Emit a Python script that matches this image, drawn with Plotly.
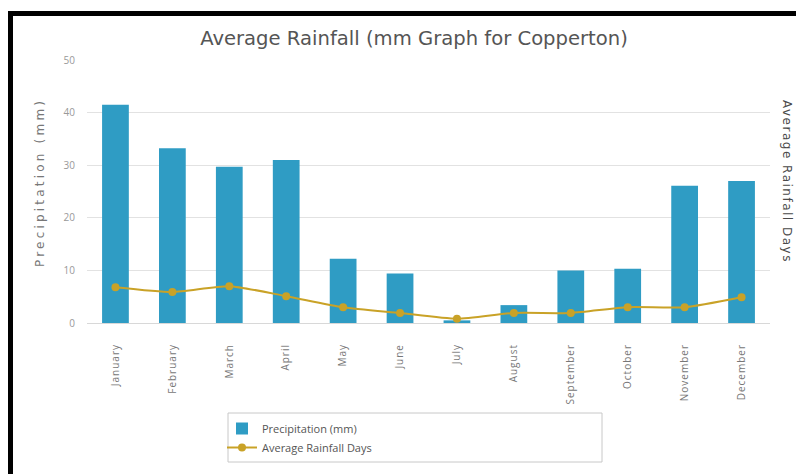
import plotly.graph_objects as go

months = ["January", "February", "March", "April", "May", "June", "July",
          "August", "September", "October", "November", "December"]
precip_mm = [41.5, 33.2, 29.7, 31.0, 12.2, 9.4, 0.5, 3.4, 10.0, 10.3, 26.1, 27.0]
rain_days = [6.8, 5.9, 7.0, 5.1, 3.0, 1.9, 0.8, 1.9, 1.9, 3.0, 3.0, 4.9]
y_ticks = [0, 10, 20, 30, 40, 50]

OFF = 8  # browser body margin
W, H = 804 - OFF, 474 - OFF
X0, X1, Y0, Y1 = 87, 770, 60, 323  # plot area in screen pixels
L, T = X0 - OFF, Y0 - OFF
pw, ph = X1 - X0, Y1 - Y0
R, B = W - L - pw, H - T - ph

def px(x):
    return (x - X0) / pw

def py(y):
    return (Y1 - y) / ph

def spaced(s, sp):
    return '<span style="letter-spacing:%spx">%s</span>' % (sp, s)

bar_color = "#2f9cc4"
line_color = "#c9a227"

fig = go.Figure()
fig.add_trace(go.Bar(
    x=months, y=precip_mm, name="Precipitation (mm)",
    marker=dict(color=bar_color, line=dict(width=0)),
))
fig.add_trace(go.Scatter(
    x=months, y=rain_days, name="Average Rainfall Days", mode="lines+markers",
    line=dict(color=line_color, width=2, shape="spline", smoothing=0.6),
    marker=dict(color=line_color, size=8),
))

fig.update_layout(
    template="none",
    width=W, height=H,
    margin=dict(l=L, r=R, t=T, b=B, pad=0),
    paper_bgcolor="white", plot_bgcolor="white",
    font=dict(family="Open Sans, DejaVu Sans, sans-serif", color="#666"),
    bargap=0.53,
    title=dict(text="Average Rainfall (mm Graph for Copperton)",
               x=(414 - OFF) / W, xanchor="center", y=1 - (38 - OFF) / H, yanchor="middle",
               font=dict(family="DejaVu Sans, sans-serif", size=19.6, color="#555")),
    xaxis=dict(tickangle=-90, tickfont=dict(size=10, color="#777"),
               tickvals=months, ticktext=[spaced(m, 1) for m in months],
               range=[-0.5, len(months) - 0.5],
               showgrid=False, showline=True, linecolor="#d8d8d8", ticks="",
               automargin=False, zeroline=False, ticklabelstandoff=16),
    yaxis=dict(range=[0, 50], tickvals=y_ticks, tickfont=dict(size=10, color="#999"),
               showgrid=True, gridcolor="#e2e2e2", gridwidth=1, zeroline=False,
               showline=False, ticks="", automargin=False, ticklabelstandoff=11),
    showlegend=True,
    legend=dict(x=px(222), y=py(414), xanchor="left", yanchor="top",
                bgcolor="rgba(0,0,0,0)", borderwidth=0,
                font=dict(size=11, color="#555"), tracegroupgap=0,
                itemwidth=30),
)

fig.add_annotation(text=spaced("Precipitation (mm)", 3.2),
                   xref="paper", yref="paper", xanchor="center", yanchor="middle",
                   x=px(40), y=py(183), textangle=-90, showarrow=False,
                   font=dict(family="DejaVu Sans, sans-serif", size=12, color="#777"))
fig.add_annotation(text=spaced("Average Rainfall Days", 1.5),
                   xref="paper", yref="paper", xanchor="center", yanchor="middle",
                   x=px(787), y=py(181), textangle=90, showarrow=False,
                   font=dict(family="DejaVu Sans, sans-serif", size=12, color="#4a4a4a"))

# legend frame
fig.add_shape(type="rect", xref="paper", yref="paper",
              x0=px(228), x1=px(602), y0=py(462), y1=py(413),
              line=dict(color="#c8c8c8", width=1), fillcolor="rgba(0,0,0,0)",
              layer="below")

# black frame (top and left)
fig.add_shape(type="rect", xref="paper", yref="paper",
              x0=px(8), x1=px(13), y0=py(480), y1=py(11),
              line=dict(width=0), fillcolor="black")
fig.add_shape(type="rect", xref="paper", yref="paper",
              x0=px(8), x1=px(810), y0=py(16), y1=py(11),
              line=dict(width=0), fillcolor="black")

fig.write_html("out.html")
